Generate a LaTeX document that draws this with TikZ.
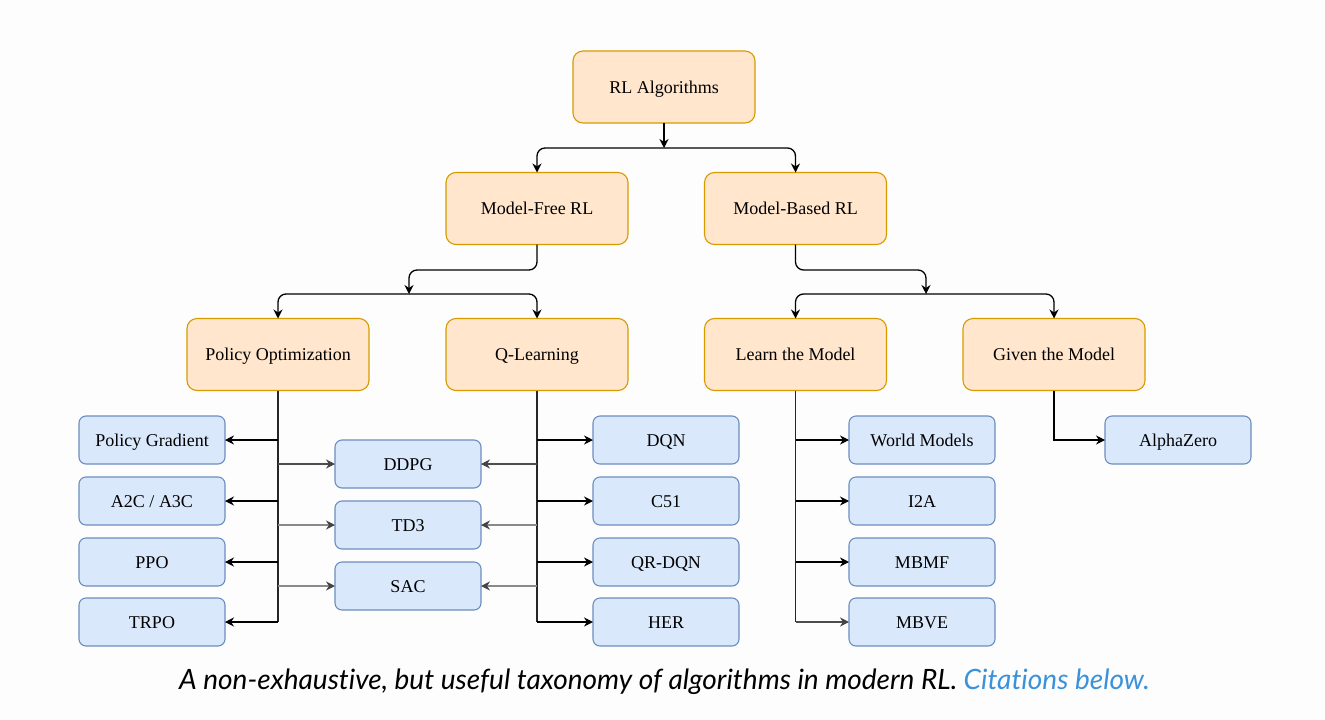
\documentclass[tikz,border=0pt]{standalone}
\usepackage{fontspec}
\setmainfont{Liberation Serif}
\newfontfamily\latofont[Ligatures=NoCommon]{Lato}
\usetikzlibrary{arrows.meta}
\definecolor{ofill}{HTML}{FFE6CC}
\definecolor{ostroke}{HTML}{D79B00}
\definecolor{bfill}{HTML}{DAE8FC}
\definecolor{bstroke}{HTML}{6C8EBF}
\definecolor{bgc}{HTML}{FDFDFD}
\definecolor{linkblue}{HTML}{3A92DB}
\definecolor{darkg}{HTML}{4D4D4D}
\definecolor{midg}{HTML}{8A8A8A}
\definecolor{tipg}{HTML}{444444}
\tikzset{
  obox/.style={draw=ostroke, fill=ofill, rounded corners=10pt, minimum width=182pt, minimum height=72pt, line width=1.1pt, outer sep=0pt, inner sep=0pt, text height=13pt, text depth=1pt, font=\fontsize{18}{20}\selectfont},
  bbox/.style={draw=bstroke, fill=bfill, rounded corners=7pt, minimum width=146pt, minimum height=48pt, line width=1.1pt, outer sep=0pt, inner sep=0pt, text height=13pt, text depth=1pt, font=\fontsize{18}{20}\selectfont},
  arr/.style={draw=black, line width=1.3pt, -{Stealth[length=9pt,width=9pt,inset=3pt]}},
  trunk/.style={draw=black!85, line width=1.3pt},
  garr/.style={draw=midg, line width=1.3pt, -{Stealth[length=9pt,width=9pt,inset=3pt,color=tipg]}},
  darr/.style={draw=darkg, line width=1.3pt, -{Stealth[length=9pt,width=9pt,inset=3pt,color=tipg]}},
}
\begin{document}
\begin{tikzpicture}[x=1pt,y=-1pt]
\fill[bgc] (0,0) rectangle (1325,720);
\useasboundingbox (0,0) rectangle (1325,720);

% orange nodes
\node[obox] (rl) at (664,87) {RL Algorithms};
\node[obox] (mf) at (537,208.5) {Model-Free RL};
\node[obox] (mb) at (795.5,208.5) {Model-Based RL};
\node[obox] (po) at (278,354.5) {Policy Optimization};
\node[obox] (ql) at (537,354.5) {Q-Learning};
\node[obox] (lm) at (795.5,354.5) {Learn the Model};
\node[obox] (gm) at (1054,354.5) {Given the Model};

% blue nodes
\node[bbox] (pg) at (152,440) {Policy Gradient};
\node[bbox] (a2c) at (152,501) {A2C / A3C};
\node[bbox] (ppo) at (152,562) {PPO};
\node[bbox] (trpo) at (152,622) {TRPO};
\node[bbox] (ddpg) at (408,464) {DDPG};
\node[bbox] (td3) at (408,525) {TD3};
\node[bbox] (sac) at (408,586) {SAC};
\node[bbox] (dqn) at (666,440) {DQN};
\node[bbox] (c51) at (666,501) {C51};
\node[bbox] (qrdqn) at (666,562) {QR-DQN};
\node[bbox] (her) at (666,622) {HER};
\node[bbox] (wm) at (922,440) {World Models};
\node[bbox] (i2a) at (922,501) {I2A};
\node[bbox] (mbmf) at (922,562) {MBMF};
\node[bbox] (mbve) at (922,622) {MBVE};
\node[bbox] (az) at (1178,440) {AlphaZero};

% junctions
\coordinate (j1) at (664,148);
\coordinate (j2) at (409,294);
\coordinate (j3) at (926,294);
\coordinate (pob) at (278,622);
\coordinate (qlb) at (537,622);
\coordinate (lmb) at (795.5,622);

% top level
\draw[arr] (rl.south) -- (j1);
\draw[arr, rounded corners=8pt] (j1) -| (mf.north);
\draw[arr, rounded corners=8pt] (j1) -| (mb.north);

% model-free
\draw[arr, rounded corners=8pt] (mf.south) -- ++(0,25.5) -| (j2);
\draw[arr, rounded corners=8pt] (j2) -| (po.north);
\draw[arr, rounded corners=8pt] (j2) -| (ql.north);

% model-based
\draw[arr, rounded corners=8pt] (mb.south) -- ++(0,25.5) -| (j3);
\draw[arr, rounded corners=8pt] (j3) -| (lm.north);
\draw[arr, rounded corners=8pt] (j3) -| (gm.north);

% policy optimization
\draw[trunk] (po.south) -- (pob);
\draw[arr] (po.south |- pg.east) -- (pg.east);
\draw[arr] (po.south |- a2c.east) -- (a2c.east);
\draw[arr] (po.south |- ppo.east) -- (ppo.east);
\draw[arr] (pob) -- (trpo.east);
\draw[darr] (po.south |- ddpg.west) -- (ddpg.west);
\draw[garr] (po.south |- td3.west) -- (td3.west);
\draw[garr] (po.south |- sac.west) -- (sac.west);

% q-learning
\draw[trunk] (ql.south) -- (qlb);
\draw[arr] (ql.south |- dqn.west) -- (dqn.west);
\draw[arr] (ql.south |- c51.west) -- (c51.west);
\draw[arr] (ql.south |- qrdqn.west) -- (qrdqn.west);
\draw[arr] (qlb) -- (her.west);
\draw[darr] (ql.south |- ddpg.east) -- (ddpg.east);
\draw[garr] (ql.south |- td3.east) -- (td3.east);
\draw[garr] (ql.south |- sac.east) -- (sac.east);

% learn the model
\draw[trunk] (lm.south) -- (lmb);
\draw[arr] (lm.south |- wm.west) -- (wm.west);
\draw[arr] (lm.south |- i2a.west) -- (i2a.west);
\draw[arr] (lm.south |- mbmf.west) -- (mbmf.west);
\draw[darr] (lmb) -- (mbve.west);

% given the model
\draw[arr] (gm.south) |- (az.west);

% caption
\node[anchor=base, inner sep=0pt, font=\latofont\itshape\fontsize{28}{32}\selectfont] (cap) at (664.5,689) {A non-exhaustive, but useful taxonomy of algorithms in modern RL. \textcolor{linkblue}{Citations below.}};
\end{tikzpicture}
\end{document}
